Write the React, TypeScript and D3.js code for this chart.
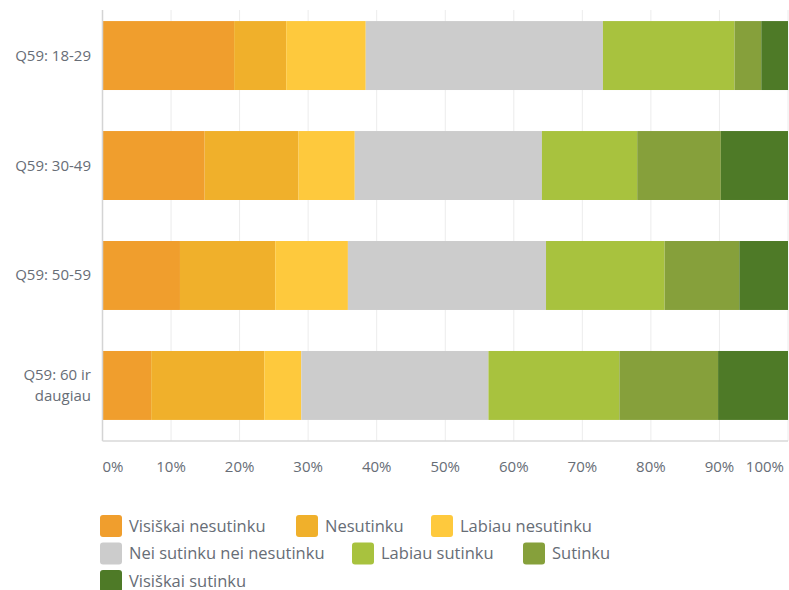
import { scaleBand, scaleLinear, stack } from "d3";

const categories = ["Q59: 18-29", "Q59: 30-49", "Q59: 50-59", "Q59: 60 ir daugiau"];
const seriesNames = [
  "Visiškai nesutinku",
  "Nesutinku",
  "Labiau nesutinku",
  "Nei sutinku nei nesutinku",
  "Labiau sutinku",
  "Sutinku",
  "Visiškai sutinku"
];
const seriesColors = ["#f09e2d", "#f0b02b", "#fec93d", "#cccccc", "#a8c23e", "#86a03b", "#4e7a27"];
// percentages per category, one array per series
const visiskaiNesutinku = [19.2, 14.9, 11.3, 7.1];
const nesutinku = [7.6, 13.7, 13.9, 16.5];
const labiauNesutinku = [11.6, 8.2, 10.6, 5.4];
const neutral = [34.6, 27.3, 28.9, 27.3];
const labiauSutinku = [19.2, 13.9, 17.3, 19.1];
const sutinku = [3.9, 12.2, 10.9, 14.4];
const visiskaiSutinku = [3.9, 9.8, 7.1, 10.2];
const tickValues = [0, 10, 20, 30, 40, 50, 60, 70, 80, 90, 100];

const width = 789;
const height = 590;
const left = 102.5;
const right = 788;
const plotTop = 10;
const plotBottom = 441;
const textColor = "#676d76";
const font = "'Open Sans', sans-serif";

const legendRows = [
  [{ i: 0, x: 100 }, { i: 1, x: 296 }, { i: 2, x: 431 }],
  [{ i: 3, x: 100 }, { i: 4, x: 352 }, { i: 5, x: 523 }],
  [{ i: 6, x: 100 }]
];

export default function App() {
  const allSeries = [visiskaiNesutinku, nesutinku, labiauNesutinku, neutral, labiauSutinku, sutinku, visiskaiSutinku];
  const rows = categories.map((c, ci) => {
    const row: Record<string, number | string> = { category: c };
    seriesNames.forEach((s, si) => {
      row[s] = allSeries[si][ci];
    });
    return row;
  });
  const stacked = stack<Record<string, number | string>>()
    .keys(seriesNames)
    .value((d, key) => d[key] as number)(rows);

  const total = (ci: number) => allSeries.reduce((acc, s) => acc + s[ci], 0);

  const x = scaleLinear().domain([0, 100]).range([left, right]);
  const y = scaleBand<string>()
    .domain(categories)
    .range([0.5, 440.5])
    .paddingInner(0.373)
    .paddingOuter(0.187);

  return (
    <svg
      width={width}
      height={height}
      style={{ position: "absolute", left: 0, top: 0, background: "#fff" }}
      fontFamily={font}
    >
      {tickValues.map((t) => (
        <line key={`g${t}`} x1={x(t)} x2={x(t)} y1={plotTop} y2={plotBottom} stroke="#ececec" strokeWidth={1} />
      ))}
      {stacked.map((layer, si) => (
        <g key={layer.key} fill={seriesColors[si]}>
          {layer.map((d, ci) => {
            const scale = 100 / total(ci);
            const x0 = x(d[0] * scale);
            const x1 = x(d[1] * scale);
            return (
              <rect
                key={categories[ci]}
                x={x0}
                width={x1 - x0}
                y={y(categories[ci])}
                height={y.bandwidth()}
              />
            );
          })}
        </g>
      ))}
      <line x1={left} x2={left} y1={plotTop} y2={plotBottom} stroke="#d4d4d4" strokeWidth={1.5} />
      <line x1={left} x2={right} y1={plotBottom} y2={plotBottom} stroke="#d9d9d9" strokeWidth={1.5} />
      {tickValues.map((t, i) => {
        const anchor = i === 0 ? "start" : i === tickValues.length - 1 ? "end" : "middle";
        const dx = i === tickValues.length - 1 ? -4 : 0;
        return (
          <text key={`t${t}`} x={x(t) + dx} y={472} textAnchor={anchor} fontSize={15} fill={textColor}>
            {`${t}%`}
          </text>
        );
      })}
      {categories.map((c) => {
        const cy = (y(c) ?? 0) + y.bandwidth() / 2;
        const words = c.split(" ");
        const lines = c.length > 12 ? [words.slice(0, 3).join(" "), words.slice(3).join(" ")] : [c];
        return (
          <text key={c} x={91} y={cy + 5 - ((lines.length - 1) * 21) / 2} textAnchor="end" fontSize={15} fill={textColor}>
            {lines.map((l, li) => (
              <tspan key={l} x={91} dy={li === 0 ? 0 : 21}>
                {l}
              </tspan>
            ))}
          </text>
        );
      })}
      {legendRows.map((row, ri) =>
        row.map(({ i, x: lx }) => (
          <g key={seriesNames[i]} transform={`translate(${lx},${515 + ri * 27.5})`}>
            <rect width={22} height={22} rx={3} fill={seriesColors[i]} />
            <text x={29} y={16.5} fontSize={16.5} fill={textColor}>
              {seriesNames[i]}
            </text>
          </g>
        ))
      )}
    </svg>
  );
}
